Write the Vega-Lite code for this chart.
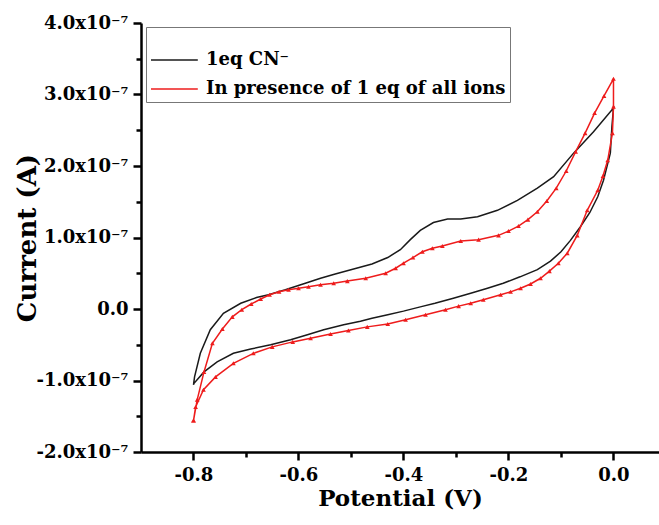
{
  "$schema": "https://vega.github.io/schema/vega-lite/v6.json",
  "width": 518,
  "height": 429,
  "autosize": {"type": "none"},
  "padding": {"left": 141, "top": 23, "right": 0, "bottom": 73},
  "background": "white",
  "config": {
    "view": {"stroke": null},
    "axis": {
      "grid": false,
      "domainColor": "#000",
      "domainWidth": 2.5,
      "tickColor": "#000",
      "tickWidth": 2.5,
      "tickSize": 8,
      "labelFont": "DejaVu Serif",
      "labelFontWeight": "bold",
      "labelFontSize": 18,
      "labelColor": "#000",
      "titleFont": "DejaVu Serif",
      "titleFontWeight": "bold",
      "titleFontSize": 23,
      "titleColor": "#000"
    }
  },
  "data": {
    "values": [
      {"s": "1eq CN⁻", "i": 0, "v": -0.800, "a": -1.06e-7},
      {"s": "1eq CN⁻", "i": 1, "v": -0.798, "a": -0.95e-7},
      {"s": "1eq CN⁻", "i": 2, "v": -0.787, "a": -0.62e-7},
      {"s": "1eq CN⁻", "i": 3, "v": -0.768, "a": -0.29e-7},
      {"s": "1eq CN⁻", "i": 4, "v": -0.743, "a": -0.06e-7},
      {"s": "1eq CN⁻", "i": 5, "v": -0.710, "a": 0.08e-7},
      {"s": "1eq CN⁻", "i": 6, "v": -0.680, "a": 0.16e-7},
      {"s": "1eq CN⁻", "i": 7, "v": -0.657, "a": 0.20e-7},
      {"s": "1eq CN⁻", "i": 8, "v": -0.625, "a": 0.27e-7},
      {"s": "1eq CN⁻", "i": 9, "v": -0.587, "a": 0.36e-7},
      {"s": "1eq CN⁻", "i": 10, "v": -0.558, "a": 0.43e-7},
      {"s": "1eq CN⁻", "i": 11, "v": -0.530, "a": 0.49e-7},
      {"s": "1eq CN⁻", "i": 12, "v": -0.495, "a": 0.56e-7},
      {"s": "1eq CN⁻", "i": 13, "v": -0.460, "a": 0.63e-7},
      {"s": "1eq CN⁻", "i": 14, "v": -0.430, "a": 0.72e-7},
      {"s": "1eq CN⁻", "i": 15, "v": -0.406, "a": 0.83e-7},
      {"s": "1eq CN⁻", "i": 16, "v": -0.387, "a": 0.97e-7},
      {"s": "1eq CN⁻", "i": 17, "v": -0.368, "a": 1.10e-7},
      {"s": "1eq CN⁻", "i": 18, "v": -0.343, "a": 1.21e-7},
      {"s": "1eq CN⁻", "i": 19, "v": -0.316, "a": 1.26e-7},
      {"s": "1eq CN⁻", "i": 20, "v": -0.291, "a": 1.26e-7},
      {"s": "1eq CN⁻", "i": 21, "v": -0.259, "a": 1.29e-7},
      {"s": "1eq CN⁻", "i": 22, "v": -0.221, "a": 1.38e-7},
      {"s": "1eq CN⁻", "i": 23, "v": -0.183, "a": 1.52e-7},
      {"s": "1eq CN⁻", "i": 24, "v": -0.145, "a": 1.69e-7},
      {"s": "1eq CN⁻", "i": 25, "v": -0.114, "a": 1.85e-7},
      {"s": "1eq CN⁻", "i": 26, "v": -0.076, "a": 2.18e-7},
      {"s": "1eq CN⁻", "i": 27, "v": -0.038, "a": 2.48e-7},
      {"s": "1eq CN⁻", "i": 28, "v": 0.000, "a": 2.81e-7},
      {"s": "1eq CN⁻", "i": 29, "v": -0.003, "a": 2.55e-7},
      {"s": "1eq CN⁻", "i": 30, "v": -0.006, "a": 2.18e-7},
      {"s": "1eq CN⁻", "i": 31, "v": -0.019, "a": 1.80e-7},
      {"s": "1eq CN⁻", "i": 32, "v": -0.030, "a": 1.57e-7},
      {"s": "1eq CN⁻", "i": 33, "v": -0.045, "a": 1.35e-7},
      {"s": "1eq CN⁻", "i": 34, "v": -0.063, "a": 1.15e-7},
      {"s": "1eq CN⁻", "i": 35, "v": -0.082, "a": 0.96e-7},
      {"s": "1eq CN⁻", "i": 36, "v": -0.100, "a": 0.80e-7},
      {"s": "1eq CN⁻", "i": 37, "v": -0.120, "a": 0.67e-7},
      {"s": "1eq CN⁻", "i": 38, "v": -0.145, "a": 0.55e-7},
      {"s": "1eq CN⁻", "i": 39, "v": -0.178, "a": 0.45e-7},
      {"s": "1eq CN⁻", "i": 40, "v": -0.210, "a": 0.36e-7},
      {"s": "1eq CN⁻", "i": 41, "v": -0.240, "a": 0.29e-7},
      {"s": "1eq CN⁻", "i": 42, "v": -0.272, "a": 0.22e-7},
      {"s": "1eq CN⁻", "i": 43, "v": -0.305, "a": 0.15e-7},
      {"s": "1eq CN⁻", "i": 44, "v": -0.340, "a": 0.08e-7},
      {"s": "1eq CN⁻", "i": 45, "v": -0.368, "a": 0.03e-7},
      {"s": "1eq CN⁻", "i": 46, "v": -0.400, "a": -0.03e-7},
      {"s": "1eq CN⁻", "i": 47, "v": -0.430, "a": -0.08e-7},
      {"s": "1eq CN⁻", "i": 48, "v": -0.460, "a": -0.13e-7},
      {"s": "1eq CN⁻", "i": 49, "v": -0.482, "a": -0.17e-7},
      {"s": "1eq CN⁻", "i": 50, "v": -0.514, "a": -0.22e-7},
      {"s": "1eq CN⁻", "i": 51, "v": -0.552, "a": -0.29e-7},
      {"s": "1eq CN⁻", "i": 52, "v": -0.583, "a": -0.36e-7},
      {"s": "1eq CN⁻", "i": 53, "v": -0.615, "a": -0.43e-7},
      {"s": "1eq CN⁻", "i": 54, "v": -0.653, "a": -0.50e-7},
      {"s": "1eq CN⁻", "i": 55, "v": -0.691, "a": -0.56e-7},
      {"s": "1eq CN⁻", "i": 56, "v": -0.724, "a": -0.62e-7},
      {"s": "1eq CN⁻", "i": 57, "v": -0.755, "a": -0.74e-7},
      {"s": "1eq CN⁻", "i": 58, "v": -0.780, "a": -0.88e-7},
      {"s": "1eq CN⁻", "i": 59, "v": -0.799, "a": -1.04e-7},
      {"s": "1eq CN⁻", "i": 60, "v": -0.800, "a": -1.06e-7},
      {"s": "In presence of 1 eq of all ions", "i": 0, "v": -0.800, "a": -1.56e-7},
      {"s": "In presence of 1 eq of all ions", "i": 1, "v": -0.793, "a": -1.27e-7},
      {"s": "In presence of 1 eq of all ions", "i": 2, "v": -0.780, "a": -0.88e-7},
      {"s": "In presence of 1 eq of all ions", "i": 3, "v": -0.764, "a": -0.48e-7},
      {"s": "In presence of 1 eq of all ions", "i": 4, "v": -0.745, "a": -0.28e-7},
      {"s": "In presence of 1 eq of all ions", "i": 5, "v": -0.726, "a": -0.11e-7},
      {"s": "In presence of 1 eq of all ions", "i": 6, "v": -0.708, "a": -0.01e-7},
      {"s": "In presence of 1 eq of all ions", "i": 7, "v": -0.690, "a": 0.07e-7},
      {"s": "In presence of 1 eq of all ions", "i": 8, "v": -0.672, "a": 0.14e-7},
      {"s": "In presence of 1 eq of all ions", "i": 9, "v": -0.655, "a": 0.20e-7},
      {"s": "In presence of 1 eq of all ions", "i": 10, "v": -0.637, "a": 0.24e-7},
      {"s": "In presence of 1 eq of all ions", "i": 11, "v": -0.619, "a": 0.27e-7},
      {"s": "In presence of 1 eq of all ions", "i": 12, "v": -0.600, "a": 0.29e-7},
      {"s": "In presence of 1 eq of all ions", "i": 13, "v": -0.581, "a": 0.31e-7},
      {"s": "In presence of 1 eq of all ions", "i": 14, "v": -0.558, "a": 0.34e-7},
      {"s": "In presence of 1 eq of all ions", "i": 15, "v": -0.533, "a": 0.36e-7},
      {"s": "In presence of 1 eq of all ions", "i": 16, "v": -0.507, "a": 0.39e-7},
      {"s": "In presence of 1 eq of all ions", "i": 17, "v": -0.472, "a": 0.43e-7},
      {"s": "In presence of 1 eq of all ions", "i": 18, "v": -0.434, "a": 0.50e-7},
      {"s": "In presence of 1 eq of all ions", "i": 19, "v": -0.415, "a": 0.57e-7},
      {"s": "In presence of 1 eq of all ions", "i": 20, "v": -0.400, "a": 0.64e-7},
      {"s": "In presence of 1 eq of all ions", "i": 21, "v": -0.382, "a": 0.72e-7},
      {"s": "In presence of 1 eq of all ions", "i": 22, "v": -0.364, "a": 0.80e-7},
      {"s": "In presence of 1 eq of all ions", "i": 23, "v": -0.345, "a": 0.85e-7},
      {"s": "In presence of 1 eq of all ions", "i": 24, "v": -0.326, "a": 0.88e-7},
      {"s": "In presence of 1 eq of all ions", "i": 25, "v": -0.291, "a": 0.95e-7},
      {"s": "In presence of 1 eq of all ions", "i": 26, "v": -0.257, "a": 0.97e-7},
      {"s": "In presence of 1 eq of all ions", "i": 27, "v": -0.219, "a": 1.03e-7},
      {"s": "In presence of 1 eq of all ions", "i": 28, "v": -0.200, "a": 1.09e-7},
      {"s": "In presence of 1 eq of all ions", "i": 29, "v": -0.181, "a": 1.16e-7},
      {"s": "In presence of 1 eq of all ions", "i": 30, "v": -0.163, "a": 1.25e-7},
      {"s": "In presence of 1 eq of all ions", "i": 31, "v": -0.145, "a": 1.36e-7},
      {"s": "In presence of 1 eq of all ions", "i": 32, "v": -0.127, "a": 1.51e-7},
      {"s": "In presence of 1 eq of all ions", "i": 33, "v": -0.109, "a": 1.69e-7},
      {"s": "In presence of 1 eq of all ions", "i": 34, "v": -0.090, "a": 1.93e-7},
      {"s": "In presence of 1 eq of all ions", "i": 35, "v": -0.072, "a": 2.20e-7},
      {"s": "In presence of 1 eq of all ions", "i": 36, "v": -0.054, "a": 2.46e-7},
      {"s": "In presence of 1 eq of all ions", "i": 37, "v": -0.036, "a": 2.74e-7},
      {"s": "In presence of 1 eq of all ions", "i": 38, "v": -0.018, "a": 2.98e-7},
      {"s": "In presence of 1 eq of all ions", "i": 39, "v": 0.000, "a": 3.22e-7},
      {"s": "In presence of 1 eq of all ions", "i": 40, "v": 0.000, "a": 2.83e-7},
      {"s": "In presence of 1 eq of all ions", "i": 41, "v": -0.002, "a": 2.46e-7},
      {"s": "In presence of 1 eq of all ions", "i": 42, "v": -0.011, "a": 2.08e-7},
      {"s": "In presence of 1 eq of all ions", "i": 43, "v": -0.020, "a": 1.86e-7},
      {"s": "In presence of 1 eq of all ions", "i": 44, "v": -0.030, "a": 1.66e-7},
      {"s": "In presence of 1 eq of all ions", "i": 45, "v": -0.050, "a": 1.38e-7},
      {"s": "In presence of 1 eq of all ions", "i": 46, "v": -0.069, "a": 1.03e-7},
      {"s": "In presence of 1 eq of all ions", "i": 47, "v": -0.088, "a": 0.78e-7},
      {"s": "In presence of 1 eq of all ions", "i": 48, "v": -0.105, "a": 0.64e-7},
      {"s": "In presence of 1 eq of all ions", "i": 49, "v": -0.122, "a": 0.53e-7},
      {"s": "In presence of 1 eq of all ions", "i": 50, "v": -0.139, "a": 0.43e-7},
      {"s": "In presence of 1 eq of all ions", "i": 51, "v": -0.158, "a": 0.35e-7},
      {"s": "In presence of 1 eq of all ions", "i": 52, "v": -0.177, "a": 0.29e-7},
      {"s": "In presence of 1 eq of all ions", "i": 53, "v": -0.196, "a": 0.24e-7},
      {"s": "In presence of 1 eq of all ions", "i": 54, "v": -0.215, "a": 0.20e-7},
      {"s": "In presence of 1 eq of all ions", "i": 55, "v": -0.248, "a": 0.13e-7},
      {"s": "In presence of 1 eq of all ions", "i": 56, "v": -0.272, "a": 0.08e-7},
      {"s": "In presence of 1 eq of all ions", "i": 57, "v": -0.295, "a": 0.04e-7},
      {"s": "In presence of 1 eq of all ions", "i": 58, "v": -0.320, "a": -0.01e-7},
      {"s": "In presence of 1 eq of all ions", "i": 59, "v": -0.358, "a": -0.08e-7},
      {"s": "In presence of 1 eq of all ions", "i": 60, "v": -0.396, "a": -0.15e-7},
      {"s": "In presence of 1 eq of all ions", "i": 61, "v": -0.430, "a": -0.21e-7},
      {"s": "In presence of 1 eq of all ions", "i": 62, "v": -0.469, "a": -0.25e-7},
      {"s": "In presence of 1 eq of all ions", "i": 63, "v": -0.505, "a": -0.30e-7},
      {"s": "In presence of 1 eq of all ions", "i": 64, "v": -0.539, "a": -0.35e-7},
      {"s": "In presence of 1 eq of all ions", "i": 65, "v": -0.577, "a": -0.41e-7},
      {"s": "In presence of 1 eq of all ions", "i": 66, "v": -0.611, "a": -0.46e-7},
      {"s": "In presence of 1 eq of all ions", "i": 67, "v": -0.650, "a": -0.53e-7},
      {"s": "In presence of 1 eq of all ions", "i": 68, "v": -0.686, "a": -0.62e-7},
      {"s": "In presence of 1 eq of all ions", "i": 69, "v": -0.724, "a": -0.76e-7},
      {"s": "In presence of 1 eq of all ions", "i": 70, "v": -0.758, "a": -0.95e-7},
      {"s": "In presence of 1 eq of all ions", "i": 71, "v": -0.781, "a": -1.13e-7},
      {"s": "In presence of 1 eq of all ions", "i": 72, "v": -0.796, "a": -1.37e-7},
      {"s": "In presence of 1 eq of all ions", "i": 73, "v": -0.800, "a": -1.56e-7}
    ]
  },
  "layer": [
    {
      "mark": {"type": "line", "strokeWidth": 1.5, "clip": true},
      "encoding": {
        "x": {
          "field": "v", "type": "quantitative",
          "scale": {"domain": [-0.9, 0.0867], "nice": false, "zero": false},
          "axis": {
            "orient": "bottom",
            "values": [-0.8, -0.6, -0.4, -0.2, 0],
            "labelExpr": "replace(format(datum.value, '.1f'), '\u2212', '-')",
            "labelPadding": 6,
            "title": "Potential (V)",
            "titlePadding": 3
          }
        },
        "y": {
          "field": "a", "type": "quantitative",
          "scale": {"domain": [-2e-7, 4e-7], "nice": false, "zero": false},
          "axis": {
            "orient": "left",
            "values": [-2e-7, -1e-7, 0, 1e-7, 2e-7, 3e-7, 4e-7],
            "labelExpr": "datum.value == 0 ? '0.0' : replace(format(datum.value * 1e7, '.1f'), '\u2212', '-') + 'x10⁻⁷'",
            "labelPadding": 5,
            "title": "Current (A)",
            "titleFontSize": 26,
            "titlePadding": -4
          }
        },
        "color": {
          "field": "s", "type": "nominal",
          "scale": {"domain": ["1eq CN⁻", "In presence of 1 eq of all ions"], "range": ["#1a1a1a", "#ee1c1c"]},
          "legend": {
            "orient": "none",
            "legendX": 5,
            "legendY": 4,
            "title": " ",
            "titleFontSize": 13,
            "titlePadding": 6,
            "symbolType": "M-1,0H4.2",
            "symbolSize": 324,
            "symbolStrokeWidth": 1.5,
            "labelFont": "DejaVu Serif",
            "labelFontWeight": "bold",
            "labelFontSize": 18,
            "labelColor": "#000",
            "labelLimit": 400,
            "labelOffset": 36,
            "rowPadding": 10,
            "strokeColor": "#777",
            "padding": 4,
            "fillColor": "white"
          }
        },
        "order": {"field": "i", "type": "quantitative"}
      }
    },
    {
      "transform": [{"filter": "datum.s == 'In presence of 1 eq of all ions'"}],
      "mark": {"type": "point", "shape": "triangle-up", "filled": true, "size": 22, "color": "#ee1c1c", "opacity": 1, "clip": true},
      "encoding": {
        "x": {
          "field": "v", "type": "quantitative",
          "axis": {"orient": "bottom", "values": [-0.7, -0.5, -0.3, -0.1], "labels": false, "domain": false, "title": null, "tickSize": 5}
        },
        "y": {
          "field": "a", "type": "quantitative",
          "axis": {"orient": "left", "values": [-1.5e-7, -0.5e-7, 0.5e-7, 1.5e-7, 2.5e-7, 3.5e-7], "labels": false, "domain": false, "title": null, "tickSize": 5}
        }
      }
    }
  ],
  "resolve": {"axis": {"x": "independent", "y": "independent"}}
}
